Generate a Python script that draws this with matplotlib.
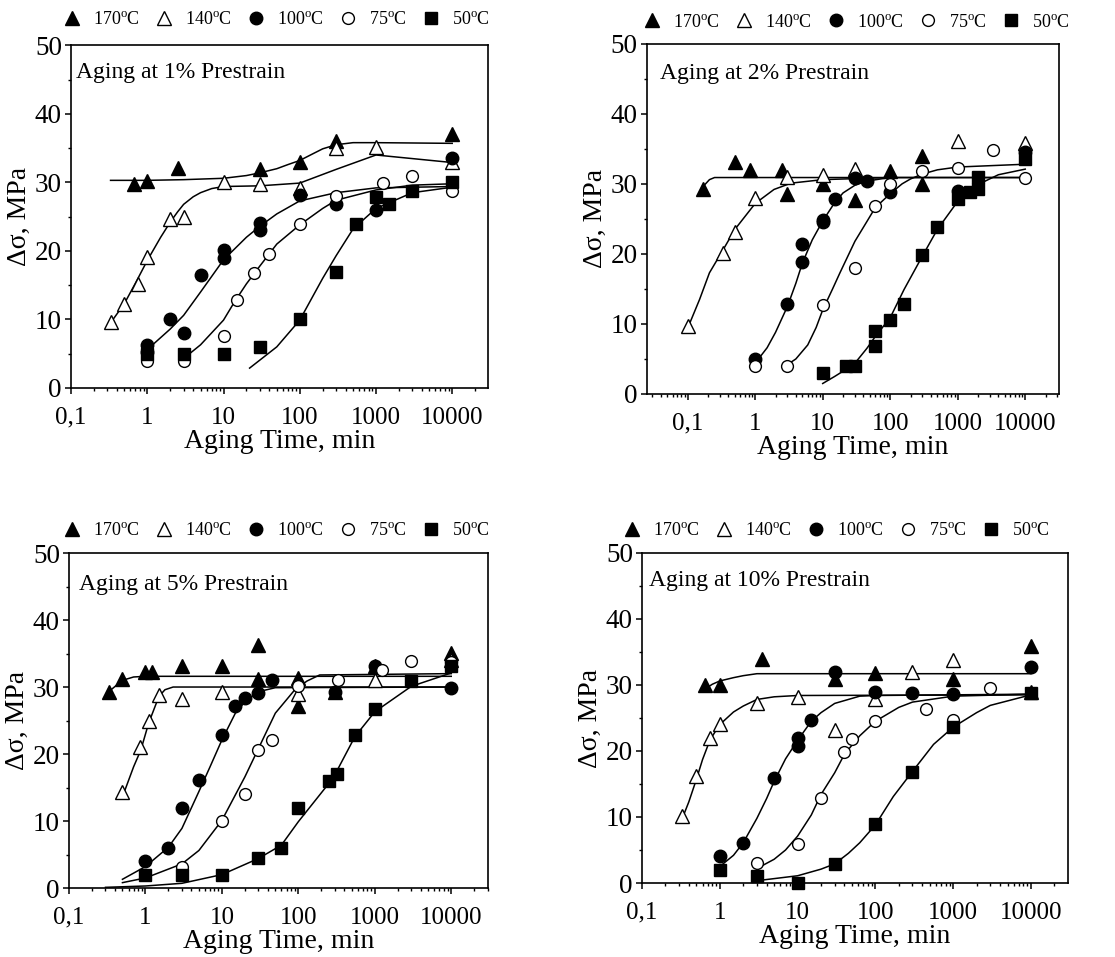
import matplotlib
matplotlib.use("Agg")
import matplotlib.pyplot as plt
from matplotlib.lines import Line2D
from matplotlib.ticker import FixedLocator, LogLocator, MultipleLocator, NullFormatter

plt.rcParams['font.family'] = ['Liberation Serif', 'DejaVu Serif']
plt.rcParams['mathtext.fontset'] = 'custom'
plt.rcParams['mathtext.rm'] = 'Liberation Serif'
plt.rcParams['mathtext.it'] = 'Liberation Serif:italic'

# Data: (aging time [min], delta sigma [MPa]) ---------------------------------------------------
temps = ['170', '140', '100', '75', '50']
prestrains = ['1%', '2%', '5%', '10%']
tick_times = [0.1, 1, 10, 100, 1000, 10000]
tick_names = ['0,1', '1', '10', '100', '1000', '10000']

# 1% prestrain
pts1_170 = [(0.67, 29.7), (1, 30.2), (2.5, 32.1), (30, 32.0), (100, 33.0), (300, 36.1), (10000, 37.1)]
fit1_170 = [(0.33, 30.3), (1, 30.3), (3, 30.4), (10, 30.6), (20, 31.0), (30, 31.4), (50, 32.0), (70, 32.6),
            (100, 33.2), (150, 34.2), (200, 34.9), (300, 35.5), (500, 35.8), (1000, 35.8), (10000, 35.7)]
pts1_140 = [(0.33, 9.7), (0.5, 12.2), (0.75, 15.2), (1, 19.1), (2, 24.6), (3, 25.0), (10, 30.0),
            (30, 29.7), (100, 29.2), (300, 35.0), (1000, 35.2), (10000, 33.0)]
fit1_140 = [(0.33, 9.5), (0.5, 12.3), (0.7, 15.3), (1, 18.6), (1.5, 22.0), (2, 24.2), (2.5, 25.7),
            (3, 26.8), (4, 27.9), (5, 28.5), (7, 29.1), (10, 29.4), (30, 29.5), (100, 29.9), (300, 31.9),
            (1000, 34.0), (10000, 32.9)]
pts1_100 = [(1, 6.2), (1, 5.2), (2, 10.0), (3, 8.0), (5, 16.5), (10, 20.1), (10, 18.9), (30, 24.1),
            (30, 23.0), (100, 28.1), (300, 26.8), (1000, 25.9), (10000, 33.6)]
fit1_100 = [(1, 5.6), (2, 8.6), (3, 10.6), (5, 14.0), (10, 18.7), (20, 22.0), (30, 23.6), (50, 25.4),
            (100, 27.3), (300, 28.5), (1000, 29.2), (10000, 29.4)]
pts1_75 = [(1, 3.9), (3, 3.9), (10, 7.6), (15, 12.9), (25, 16.8), (40, 19.5), (100, 23.9), (300, 28.0),
           (1250, 29.9), (3000, 30.9), (10000, 28.7)]
fit1_75 = [(3, 4.3), (5, 6.3), (10, 9.9), (14, 12.6), (20, 15.2), (30, 17.8), (50, 21.0), (100, 23.8),
           (200, 26.2), (300, 27.4), (1000, 28.9), (3000, 29.6), (10000, 29.8)]
pts1_50 = [(1, 5.0), (3, 5.0), (10, 5.0), (30, 6.0), (100, 10.0), (300, 16.9), (550, 23.9), (1000, 27.8),
           (1500, 26.8), (3000, 28.8), (10000, 30.0)]
fit1_50 = [(22, 2.9), (50, 6.0), (100, 9.9), (200, 16.0), (300, 19.3), (500, 23.2), (1000, 26.2),
           (3000, 28.5), (10000, 29.3)]

# 2% prestrain
pts2_170 = [(0.17, 29.2), (0.5, 33.1), (0.83, 32.0), (2.5, 32.0), (3, 28.5), (10, 30.0), (30, 27.7),
            (100, 31.8), (300, 34.0), (300, 30.0)]
fit2_170 = [(0.15, 28.8), (0.18, 29.9), (0.21, 30.6), (0.25, 30.9), (1, 30.9), (10000, 30.9)]
pts2_140 = [(0.1, 9.7), (0.33, 20.1), (0.5, 23.1), (1, 28.0), (3, 31.0), (10, 31.3), (30, 32.1),
            (1000, 36.1), (10000, 35.9)]
fit2_140 = [(0.1, 9.4), (0.15, 13.5), (0.21, 17.3), (0.34, 20.7), (0.5, 23.5), (1, 27.2), (1.9, 29.2),
            (3.4, 30.1), (10, 30.6), (100, 30.9), (10000, 30.9)]
pts2_100 = [(1, 5.0), (3, 12.9), (5, 21.4), (5, 18.9), (10, 24.9), (10, 24.5), (15, 27.9), (30, 30.9),
            (45, 30.4), (100, 28.8), (1000, 29.0), (10000, 34.5)]
fit2_100 = [(1, 4.4), (1.5, 6.6), (2, 8.8), (3, 12.5), (4, 15.8), (5, 18.7), (7, 22.0), (10, 24.7),
            (15, 27.3), (20, 28.7), (30, 29.8), (45, 30.4), (100, 30.9)]
pts2_75 = [(1, 4.0), (3, 4.0), (10, 12.7), (30, 18.0), (60, 26.8), (100, 30.0), (300, 31.9),
           (1000, 32.3), (3300, 34.8), (10000, 30.8)]
fit2_75 = [(3, 4.2), (4, 5.0), (6, 7.0), (8, 9.5), (10, 12.0), (14, 15.0), (18, 17.3), (30, 21.8),
           (45, 24.6), (60, 26.6), (100, 28.6), (150, 30.0), (200, 30.7), (300, 31.4), (500, 32.0),
           (1000, 32.4), (10000, 32.8)]
pts2_50 = [(10, 3.0), (22, 4.0), (30, 4.0), (60, 9.0), (60, 6.8), (100, 10.6), (160, 12.9), (300, 19.8),
           (500, 23.8), (1000, 27.8), (1500, 28.9), (2000, 29.3), (2000, 31.0), (10000, 33.6)]
fit2_50 = [(10, 1.5), (15, 2.5), (22, 3.5), (30, 4.4), (45, 6.5), (60, 8.2), (100, 10.9), (160, 14.9),
           (300, 19.7), (500, 23.5), (1000, 27.5), (2000, 29.9), (4000, 31.3), (10000, 32.1)]

# 5% prestrain
pts3_170 = [(0.33, 29.2), (0.5, 31.2), (1, 32.3), (1.2, 32.3), (3, 33.2), (10, 33.2), (30, 36.2),
            (30, 31.2), (100, 31.3), (100, 27.1), (300, 29.2), (1000, 33.1), (10000, 35.1)]
fit3_170 = [(0.33, 29.3), (0.5, 31.0), (0.7, 31.5), (1, 31.6), (10000, 31.6)]
pts3_140 = [(0.5, 14.3), (0.85, 21.1), (1.1, 24.9), (1.5, 28.8), (3, 28.2), (10, 29.2), (100, 29.0),
            (1000, 31.0), (10000, 34.0)]
fit3_140 = [(0.5, 13.6), (0.7, 18.1), (0.87, 20.6), (1.1, 24.6), (1.5, 28.6), (1.8, 29.6), (2.3, 30.0),
            (10000, 30.0)]
pts3_100 = [(1, 4.1), (2, 6.0), (3, 12.0), (5, 16.1), (10, 22.9), (15, 27.1), (20, 28.4), (30, 29.1),
            (45, 31.0), (300, 29.2), (1000, 33.2), (10000, 29.9)]
fit3_100 = [(0.5, 1.3), (1, 3.2), (2, 6.1), (3, 8.9), (5, 14.4), (7, 18.1), (10, 22.1), (15, 26.1),
            (20, 27.8), (30, 29.3), (50, 29.9), (10000, 30.0)]
pts3_75 = [(3, 3.2), (10, 10.0), (20, 14.0), (30, 20.6), (45, 22.1), (100, 30.1), (330, 31.0),
           (1250, 32.6), (3000, 33.9), (10000, 33.8)]
fit3_75 = [(0.5, 0.8), (1, 1.5), (3, 3.6), (5, 5.6), (10, 10.1), (20, 16.6), (30, 20.8), (50, 26.1),
           (70, 28.1), (90, 29.6), (130, 30.9), (190, 31.8), (10000, 32.0)]
pts3_50 = [(1, 2.0), (3, 1.9), (10, 2.0), (30, 4.5), (60, 6.0), (100, 12.0), (250, 16.0), (320, 17.0),
           (550, 22.8), (1000, 26.7), (3000, 30.9), (10000, 33.1)]
fit3_50 = [(0.3, 0.1), (1, 0.3), (3, 0.7), (10, 2.0), (30, 4.4), (60, 6.4), (100, 9.9), (250, 15.6),
           (320, 17.5), (550, 22.6), (1000, 26.3), (3000, 30.1), (10000, 32.1)]

# 10% prestrain
pts4_170 = [(0.65, 30.0), (1, 30.0), (3.5, 33.9), (30, 30.9), (100, 31.8), (1000, 30.9), (10000, 35.9)]
fit4_170 = [(0.67, 29.5), (0.8, 30.1), (1, 30.6), (1.5, 31.1), (2, 31.4), (3, 31.7), (10000, 31.7)]
pts4_140 = [(0.33, 10.1), (0.5, 16.2), (0.75, 22.0), (1, 24.1), (3, 27.2), (10, 28.1), (30, 23.1),
            (100, 27.8), (300, 31.9), (1000, 33.8), (10000, 28.9)]
fit4_140 = [(0.33, 9.8), (0.4, 12.3), (0.5, 15.7), (0.6, 18.7), (0.75, 21.7), (1, 24.0), (1.5, 25.9),
            (2, 26.8), (3, 27.8), (5, 28.2), (10, 28.4), (10000, 28.5)]
pts4_100 = [(1, 4.1), (2, 6.1), (5, 15.9), (10, 22.0), (10, 20.7), (15, 24.7), (30, 31.9), (100, 28.9),
            (300, 28.8), (1000, 28.7), (10000, 32.7)]
fit4_100 = [(1, 2.5), (1.5, 4.2), (2, 6.1), (3, 9.8), (4, 12.8), (5, 15.4), (7, 18.8), (10, 21.6),
            (15, 24.5), (20, 25.8), (30, 27.2), (63, 28.3), (100, 28.4), (10000, 28.6)]
pts4_75 = [(3, 3.0), (10, 5.9), (20, 12.9), (40, 19.8), (50, 21.8), (100, 24.6), (450, 26.4),
           (1000, 24.7), (3000, 29.6)]
fit4_75 = [(3, 2.2), (5, 3.6), (7, 5.0), (10, 7.1), (15, 10.3), (20, 13.4), (30, 16.7), (40, 19.5),
           (63, 22.3), (100, 24.5), (200, 26.6), (300, 27.4), (1000, 28.3), (10000, 28.6)]
pts4_50 = [(1, 2.0), (3, 1.1), (10, 0.0), (30, 2.9), (100, 8.9), (300, 16.8), (1000, 23.6), (10000, 28.8)]
fit4_50 = [(3, 0.35), (10, 1.1), (20, 2.1), (30, 2.9), (45, 4.5), (63, 6.1), (100, 8.8), (170, 13.1),
           (300, 16.9), (560, 21.0), (1000, 23.6), (2000, 25.8), (3000, 26.9), (10000, 28.5)]
# ----------------------------------------------------------------------------------------------

# marker style per temperature: (marker, face colour, size)
styles = {'170': ('^', 'black', 9.5), '140': ('^', 'white', 9.5), '100': ('o', 'black', 9),
          '75': ('o', 'white', 8.5), '50': ('s', 'black', 8)}

panels = [
    ([pts1_170, pts1_140, pts1_100, pts1_75, pts1_50], [fit1_170, fit1_140, fit1_100, fit1_75, fit1_50]),
    ([pts2_170, pts2_140, pts2_100, pts2_75, pts2_50], [fit2_170, fit2_140, fit2_100, fit2_75, fit2_50]),
    ([pts3_170, pts3_140, pts3_100, pts3_75, pts3_50], [fit3_170, fit3_140, fit3_100, fit3_75, fit3_50]),
    ([pts4_170, pts4_140, pts4_100, pts4_75, pts4_50], [fit4_170, fit4_140, fit4_100, fit4_75, fit4_50]),
]

# layout (figure fractions), x limits, label position and legend anchor per panel
rects = [[0.0637, 0.5946, 0.374, 0.358], [0.580, 0.5883, 0.370, 0.366],
         [0.0619, 0.0721, 0.376, 0.350], [0.5758, 0.0773, 0.382, 0.345]]
xlims = [(0.1, 29500), (0.0247, 31900), (0.1, 30500), (0.1, 29900)]
label_pos = [(0.012, 0.904), (0.032, 0.90), (0.024, 0.89), (0.016, 0.90)]
legend_anchor = [(-0.019, 1.05), (-0.01, 1.037), (-0.014, 1.042), (-0.045, 1.042)]

fig = plt.figure(figsize=(11.15, 9.57), dpi=100)

for k, (pts, fits) in enumerate(panels):
    ax = fig.add_axes(rects[k])
    ax.set_xscale('log')
    handles = []
    for temp, p, f in zip(temps, pts, fits):
        marker, face, size = styles[temp]
        ax.plot([q[0] for q in f], [q[1] for q in f], '-', color='black', lw=1.1, zorder=2)
        ax.plot([q[0] for q in p], [q[1] for q in p], linestyle='none', marker=marker, ms=size,
                mfc=face, mec='black', mew=1.0, clip_on=False, zorder=3)
        handles.append(Line2D([], [], linestyle='none', marker=marker, ms=size,
                              mfc=face, mec='black', mew=1.0))
    ax.set_xlim(*xlims[k])
    ax.set_ylim(0, 50)
    ax.xaxis.set_major_locator(FixedLocator(tick_times))
    ax.set_xticklabels(tick_names)
    ax.xaxis.set_minor_locator(LogLocator(base=10, subs=range(2, 10), numticks=20))
    ax.xaxis.set_minor_formatter(NullFormatter())
    ax.yaxis.set_major_locator(MultipleLocator(10))
    ax.yaxis.set_minor_locator(MultipleLocator(5))
    ax.tick_params(which='major', direction='out', length=4.5, width=1.1, pad=2)
    ax.tick_params(which='minor', direction='out', length=2.5, width=1.0)
    ax.tick_params(axis='x', which='major', labelsize=18, pad=9)
    ax.tick_params(axis='y', labelsize=19.5)
    for sp in ax.spines.values():
        sp.set_linewidth(1.2)
    ax.set_xlabel('Aging Time, min', fontsize=20, labelpad=0)
    ax.set_ylabel('Δσ, MPa', fontsize=20, labelpad=2)
    ax.text(label_pos[k][0], label_pos[k][1], 'Aging at %s Prestrain' % prestrains[k],
            transform=ax.transAxes, fontsize=17, va='baseline', ha='left')
    ax.legend(handles, [r'%s$^{\rm o}$C' % t for t in temps], ncol=5, frameon=False, fontsize=13,
              loc='lower left', bbox_to_anchor=legend_anchor[k], borderaxespad=0, borderpad=0,
              handlelength=1.0, handletextpad=0.67, columnspacing=0.83)

fig.savefig('out.png', dpi=100)
